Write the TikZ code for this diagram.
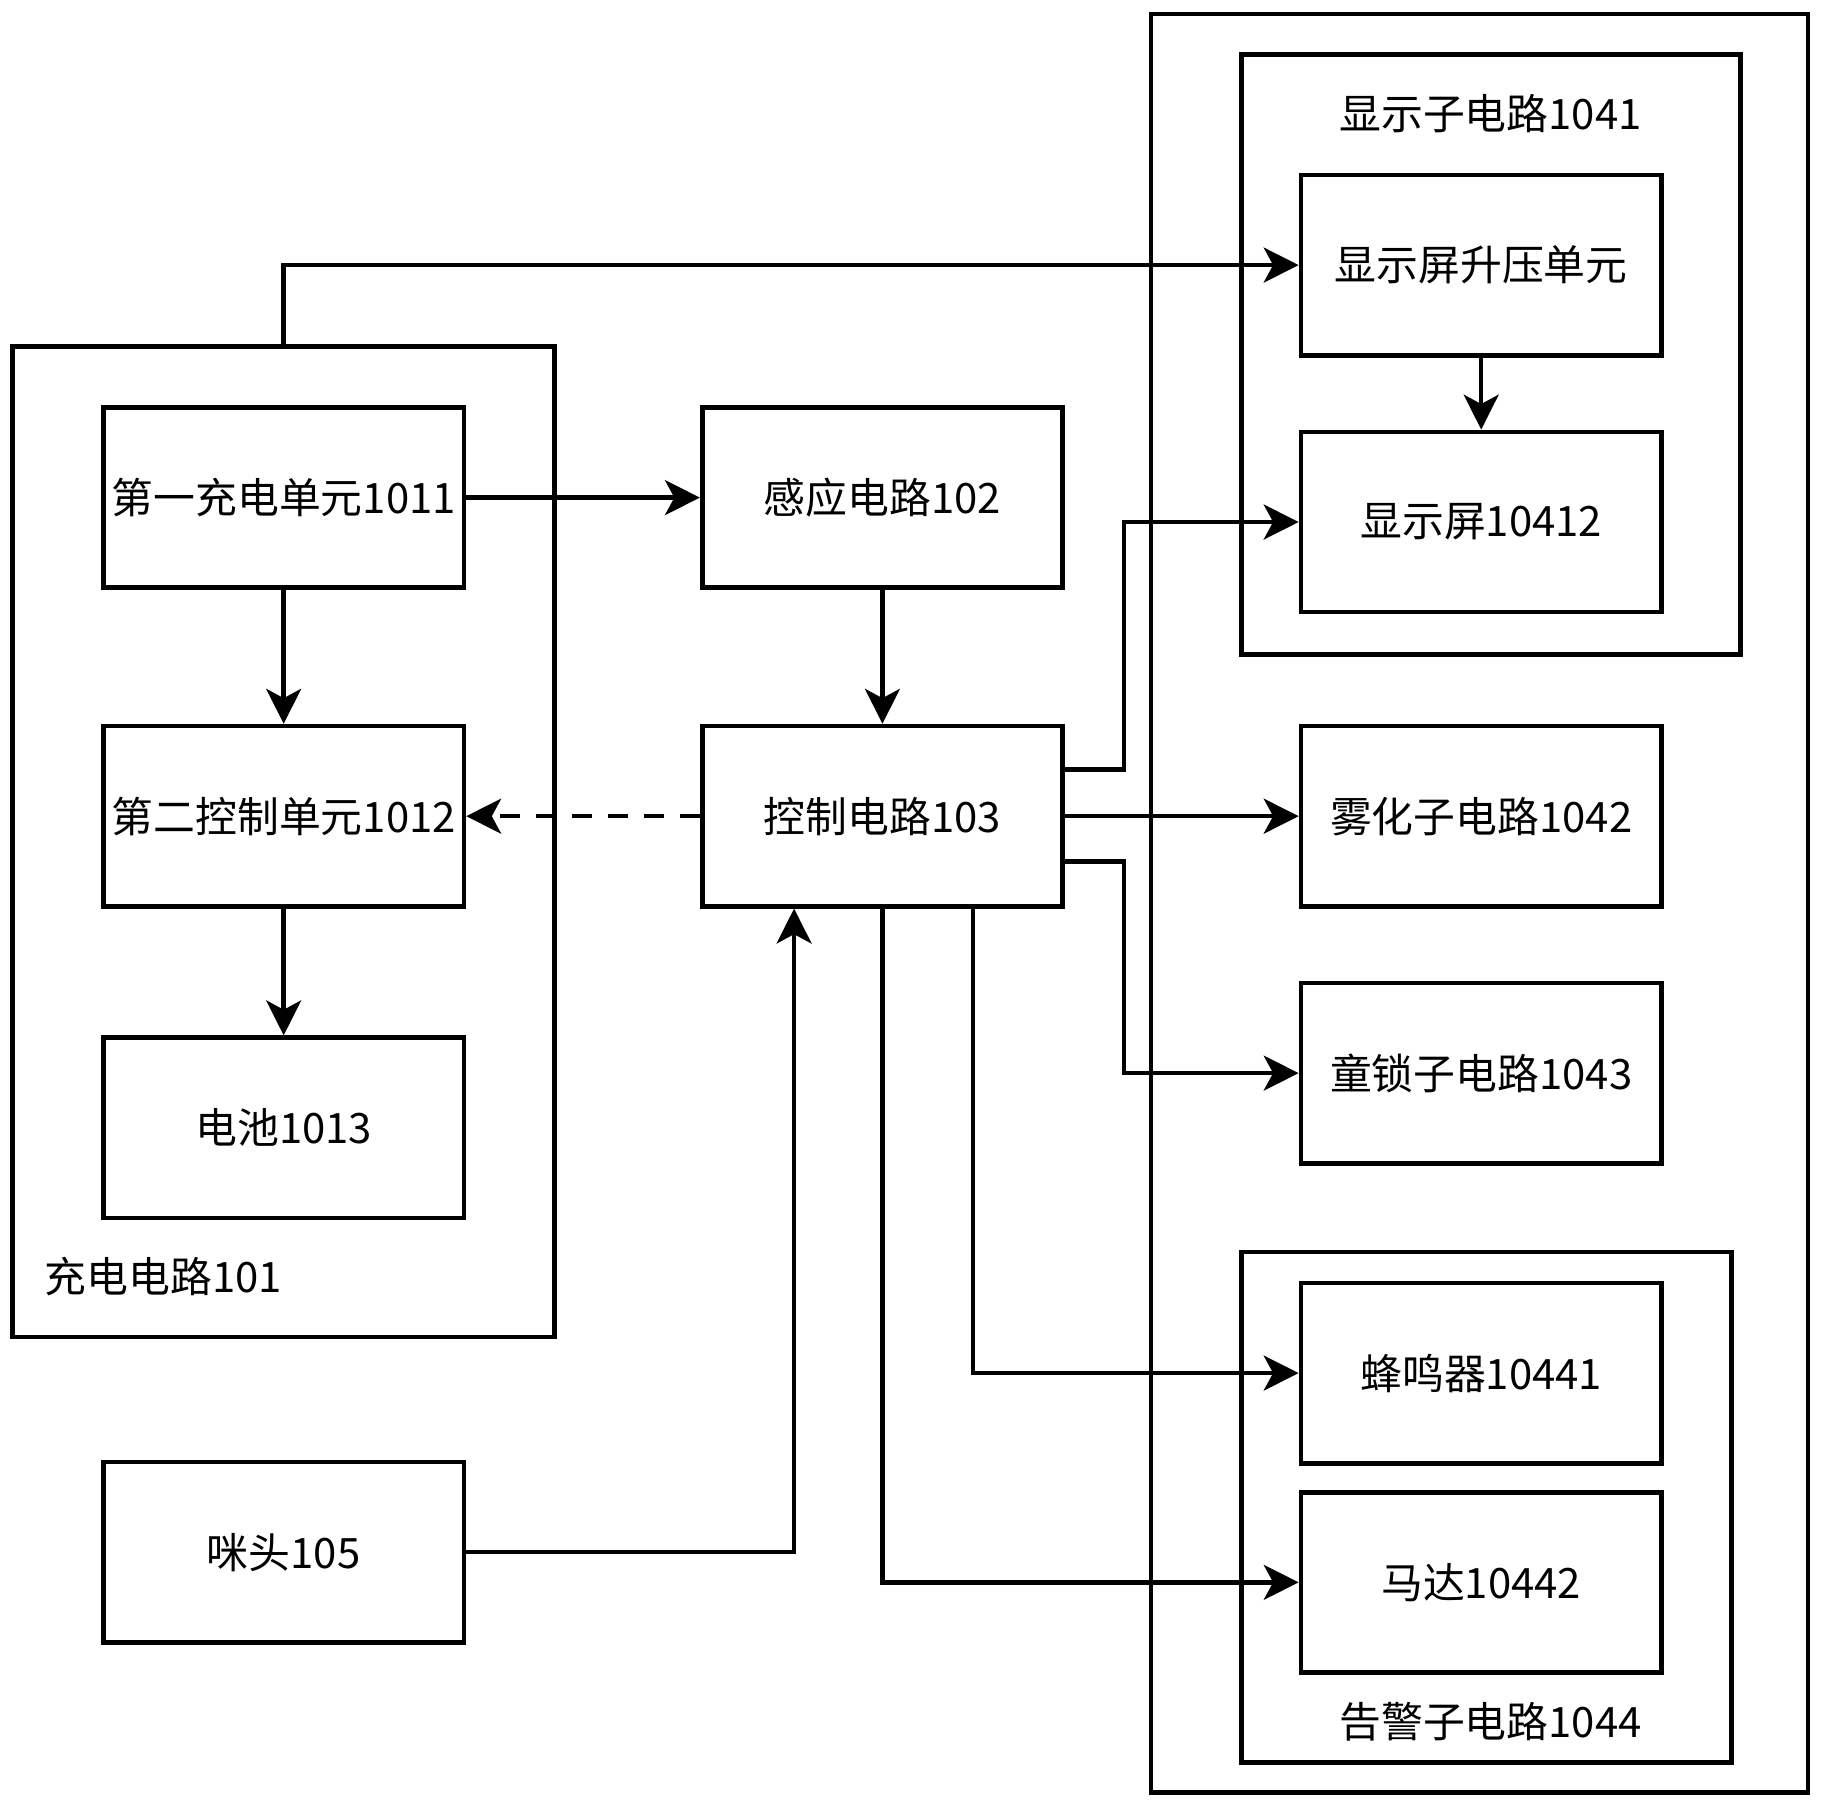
\documentclass[tikz,border=0pt]{standalone}
\usepackage{fontspec}
\setmainfont{Noto Sans CJK SC}
\usetikzlibrary{arrows.meta}

\begin{document}
\begin{tikzpicture}[x=0.5pt, y=-0.5pt,
        every node/.style={font=\fontsize{18pt}{20pt}\selectfont},
        unit/.style={draw, line width=2pt, inner sep=0pt, minimum width=155pt, minimum height=77.5pt},
        group/.style={draw, line width=2pt, inner sep=0pt},
        wire/.style={line width=1.9pt, -{Stealth[length=15pt, width=15pt, inset=4pt]}}]
            \useasboundingbox (0,0) rectangle (1568,1554);
            % groups
            \node[group, minimum width=282.5pt, minimum height=765pt] (dev) at (1272.5, 777) {};
            \node[group, minimum width=214.5pt, minimum height=258pt] (disp) at (1282.5, 305) {};
            \node[group, minimum width=210.5pt, minimum height=219.5pt] (alarm) at (1278.5, 1296.5) {};
            \node[group, minimum width=233pt, minimum height=426pt] (chg) at (244, 724) {};
            \node (displbl) at (1282, 98) {显示子电路1041};
            \node (alarmlbl) at (1282, 1481) {告警子电路1044};
            \node[anchor=west, inner sep=0pt] (chglbl) at (38, 1098) {充电电路101};
            % units
            \node[unit] (c1) at (244, 428) {第一充电单元1011};
            \node[unit] (c2) at (244, 702) {第二控制单元1012};
            \node[unit] (bat) at (244, 970) {电池1013};
            \node[unit] (mic) at (244, 1335) {咪头105};
            \node[unit] (sens) at (759, 428) {感应电路102};
            \node[unit] (ctl) at (759, 702) {控制电路103};
            \node[unit] (boost) at (1274, 228) {显示屏升压单元};
            \node[unit] (scr) at (1274, 449) {显示屏10412};
            \node[unit] (atom) at (1274, 702) {雾化子电路1042};
            \node[unit] (lock) at (1274, 923) {童锁子电路1043};
            \node[unit] (buz) at (1274, 1181) {蜂鸣器10441};
            \node[unit] (mot) at (1274, 1361) {马达10442};
            % connectors
            \draw[wire] (chg.north) |- (boost.west);
            \draw[wire] (boost) -- (scr);
            \draw[wire] (c1) -- (sens);
            \draw[wire] (c1) -- (c2);
            \draw[wire] (c2) -- (bat);
            \draw[wire] (sens) -- (ctl);
            \draw[wire, dash pattern=on 8.5pt off 7pt] (ctl) -- (c2);
            \draw[wire] ([yshift=20pt]ctl.east) -- ++(51,0) |- (scr.west);
            \draw[wire] (ctl) -- (atom);
            \draw[wire] ([yshift=-19.5pt]ctl.east) -- ++(51,0) |- (lock.west);
            \draw[wire] ([xshift=39pt]ctl.south) |- (buz.west);
            \draw[wire] (ctl.south) |- (mot.west);
            \draw[wire] (mic.east) -| ([xshift=-38pt]ctl.south);
\end{tikzpicture}
\end{document}
